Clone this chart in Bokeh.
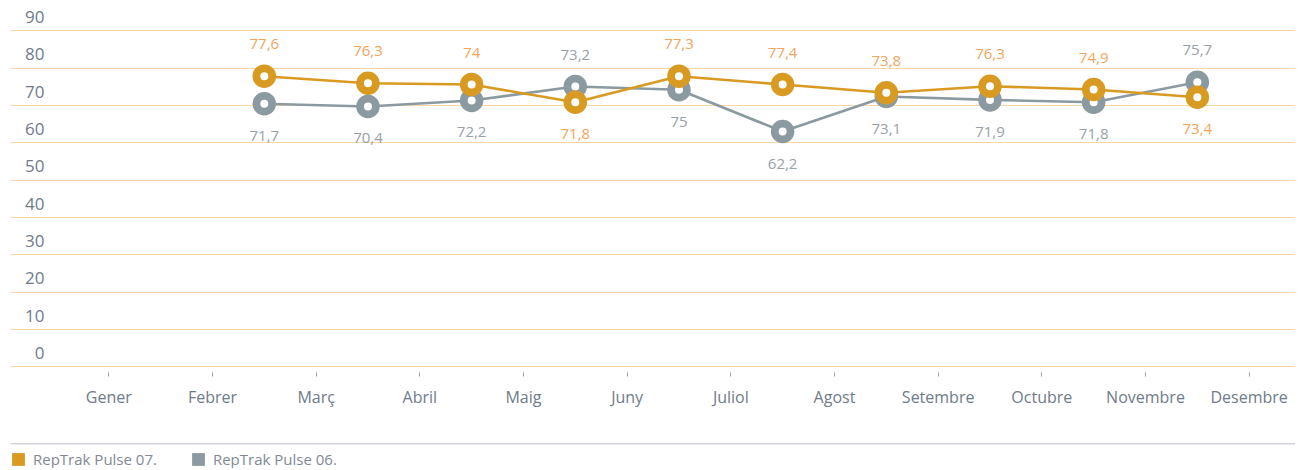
from bokeh.plotting import figure
from bokeh.models import Range1d, FixedTicker, ColumnDataSource, Span, Legend, LegendItem
from bokeh.core.properties import value
from bokeh.embed import file_html
from bokeh.resources import INLINE

# ---------------- data ----------------
months = ["Gener", "Febrer", "Març", "Abril", "Maig", "Juny", "Juliol",
          "Agost", "Setembre", "Octubre", "Novembre", "Desembre"]
y_ticks = [0, 10, 20, 30, 40, 50, 60, 70, 80, 90]

# plotted positions
pulse07 = [77.85, 75.97, 75.62, 70.88, 77.85, 75.62, 73.4, 75.17, 74.28, 72.2]
pulse06 = [70.45, 69.73, 71.34, 75.08, 74.2, 63.03, 72.4, 71.5, 70.88, 76.24]
# data labels as printed
labels07 = ["77,6", "76,3", "74", "71,8", "77,3", "77,4", "73,8", "76,3", "74,9", "73,4"]
labels06 = ["71,7", "70,4", "72,2", "73,2", "75", "62,2", "73,1", "71,9", "71,8", "75,7"]
series_names = ["RepTrak Pulse 07.", "RepTrak Pulse 06."]

# points sit between consecutive months (Febrer/Març ... Novembre/Desembre)
periods = [i + 0.5 for i in range(1, 11)]

ORANGE = "#d99a22"
GRAY = "#8b9aa0"
ORANGE_TXT = "#f2a55c"
GRAY_TXT = "#98a1a7"
AXIS_TXT = "#6f7b8a"
FONT = "Open Sans"
NAN = float("nan")

x0, x1 = -0.948, 11.447
p = figure(width=1295, height=468,
           x_range=Range1d(x0, x1), y_range=Range1d(-27.24, 95.98),
           output_backend="svg", toolbar_location=None,
           y_axis_location=None, outline_line_color=None,
           min_border_left=10, min_border_right=0,
           min_border_top=8, min_border_bottom=0,
           background_fill_color="white", border_fill_color="white")

# grid
p.xgrid.visible = False
p.ygrid.ticker = FixedTicker(ticks=y_ticks)
p.ygrid.grid_line_color = "#fad6a4"
p.ygrid.grid_line_width = 1

# x axis pinned just under the zero line
ax = p.xaxis[0]
ax.fixed_location = -1.4
ax.ticker = FixedTicker(ticks=list(range(len(months))))
ax.major_label_overrides = {i: m for i, m in enumerate(months)}
ax.axis_line_color = None
ax.major_tick_in = 0
ax.major_tick_out = 4
ax.major_tick_line_color = "#9aa2aa"
ax.minor_tick_line_color = None
ax.major_label_standoff = 10
ax.major_label_text_font = FONT
ax.major_label_text_font_size = "16px"
ax.major_label_text_color = AXIS_TXT

# y labels sitting above each gridline
ysrc = ColumnDataSource(dict(x=[x0] * len(y_ticks), y=y_ticks,
                             t=[str(v) for v in y_ticks]))
p.text(x="x", y="y", text="t", source=ysrc, x_offset=34, y_offset=-13.7,
       text_align="right", text_baseline="middle",
       text_font=value(FONT), text_font_size="17px", text_color=AXIS_TXT)

# separator line above the legend
p.add_layout(Span(location=-20.63, dimension="width",
                  line_color="#d2d3d9", line_width=1.5))


def draw_series(vals, labels, other, color, txt_color):
    src = ColumnDataSource(dict(
        x=periods, y=vals, t=labels,
        off=[-32 if v >= o else 32 for v, o in zip(vals, other)]))
    p.line("x", "y", source=src, line_color=color, line_width=2.6)
    p.scatter("x", "y", source=src, size=23.5, fill_color=color, line_color=None)
    p.scatter("x", "y", source=src, size=8, fill_color="white", line_color=None)
    p.text(x="x", y="y", text="t", source=src, y_offset="off",
           text_align="center", text_baseline="middle",
           text_font=value(FONT), text_font_size="15px", text_color=txt_color)


draw_series(pulse06, labels06, pulse07, GRAY, GRAY_TXT)
draw_series(pulse07, labels07, pulse06, ORANGE, ORANGE_TXT)

# legend swatches (renderers without visible geometry)
r07 = p.quad(left=[NAN], right=[NAN], top=[NAN], bottom=[NAN],
             fill_color=ORANGE, line_color=None)
r06 = p.quad(left=[NAN], right=[NAN], top=[NAN], bottom=[NAN],
             fill_color=GRAY, line_color=None)
legend = Legend(items=[LegendItem(label=series_names[0], renderers=[r07]),
                       LegendItem(label=series_names[1], renderers=[r06])],
                orientation="horizontal", location=(0, -1),
                padding=0, margin=0, spacing=33,
                glyph_width=16, glyph_height=16, label_height=16,
                label_standoff=7,
                label_text_font=FONT, label_text_font_size="15px",
                label_text_color="#7f8994",
                border_line_color=None, background_fill_alpha=0)
p.add_layout(legend)

open("out.html", "w").write(file_html(p, INLINE))
